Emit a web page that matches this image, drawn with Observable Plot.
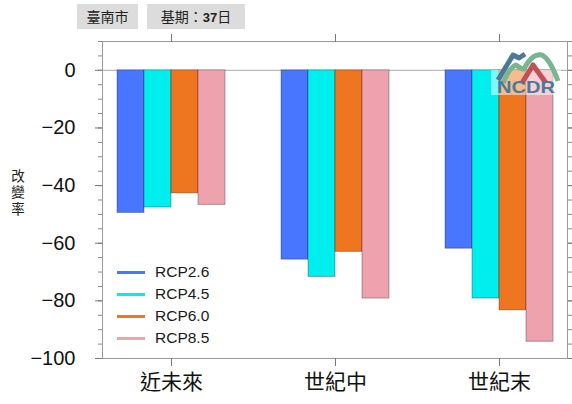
<!DOCTYPE html>
<html><head><meta charset="utf-8">
<script src="https://cdn.jsdelivr.net/npm/d3@7"></script>
<script src="https://cdn.jsdelivr.net/npm/@observablehq/plot@0.6"></script>
<style>
body{margin:0;background:#fff;font-family:"Liberation Sans",Arial,"Noto Sans CJK TC",sans-serif;}
#wrap{position:relative;width:572px;height:404px;overflow:hidden;}
#head{position:relative;height:30px;}
.tag{position:absolute;top:4px;height:25px;line-height:25px;background:#dcdcdc;color:#222;font-size:14px;text-align:center;font-family:"Noto Sans CJK TC","Liberation Sans",sans-serif;}
.tag b{font-family:"Liberation Sans",Arial,sans-serif;font-size:13px;}
#ylab{position:absolute;left:10px;top:169px;font-size:13.5px;line-height:16px;color:#222;font-family:"Noto Sans CJK TC",sans-serif;writing-mode:vertical-rl;text-orientation:upright;letter-spacing:3px;}
#chart{position:absolute;left:0;top:30px;width:572px;height:374px;}
#chart svg{position:absolute;left:0;top:0;}
#legend{position:absolute;left:117px;top:261px;}
.li{position:relative;height:22px;}
.li span.sw{position:absolute;left:0;top:9.5px;width:28px;height:3px;}
.li span.tx{position:absolute;left:38px;top:0;line-height:22px;font-size:15.5px;color:#1a1a1a;white-space:nowrap;}
#logo{position:absolute;left:488px;top:48px;}
</style></head><body>
<div id="wrap">
  <div id="head">
    <div class="tag" style="left:77px;width:61px">臺南市</div>
    <div class="tag" style="left:147px;width:98px">基期：<b>37</b>日</div>
  </div>
  <div id="chart"></div>
  <div id="ylab">改變率</div>
  <div id="legend"></div>
  <svg id="logo" width="76" height="48" viewBox="0 0 76 48">
    <rect x="3" y="22" width="70" height="25" fill="#fff" opacity="0.5"></rect>
    <path d="M10,32 L25,7 L31,10 L37,6" fill="none" stroke="#4a7a96" stroke-width="5" stroke-linejoin="round"></path>
    <path d="M15,35 Q22,19 28,17 Q33,21 36,21 Q44,5 54,7 Q62,11 70,33" fill="none" stroke="#7ab591" stroke-width="5" stroke-linejoin="round"></path>
    <path d="M34,35 L45,17 L58,35" fill="none" stroke="#c24f55" stroke-width="5" stroke-linejoin="round"></path>
    <text x="38" y="45" text-anchor="middle" font-family="Liberation Sans, Arial, sans-serif" font-weight="bold" font-size="17" fill="#4a7a9a" textLength="58" lengthAdjust="spacingAndGlyphs">NCDR</text>
  </svg>
</div>
<script>
const categories = ["近未來", "世紀中", "世紀末"];
const series = ["RCP2.6", "RCP4.5", "RCP6.0", "RCP8.5"];
const colors = ["#4876ff", "#00eeee", "#ee7621", "#eea2ad"];
const rcp26 = [-49.5, -65.7, -61.9];
const rcp45 = [-47.6, -71.7, -79.2];
const rcp60 = [-42.7, -63.0, -83.3];
const rcp85 = [-46.7, -79.2, -94.2];
const yTicks = [0, -20, -40, -60, -80, -100];
const yMinorTicks = [10, 5, 0, -5, -10, -15, -20, -25, -30, -35, -40, -45, -50, -55, -60, -65, -70, -75, -80, -85, -90, -95, -100];

const seriesValues = [rcp26, rcp45, rcp60, rcp85];
const rows = categories.flatMap((c, i) => series.map((s, j) => ({category: c, series: s, value: seriesValues[j][i]})));

const font = "Liberation Sans, Arial, Noto Sans CJK TC, sans-serif";
const common = {
  width: 572, height: 374,
  marginLeft: 102, marginRight: 5, marginTop: 11, marginBottom: 46,
  style: {fontFamily: font, color: "#111", background: "transparent", overflow: "visible"},
  y: {domain: [-100, 10], label: null}
};

// Background layer: frame, zero line, y axes (left and right)
const axesLayer = Plot.plot({
  ...common,
  marks: [
    Plot.ruleY([0], {stroke: "#aaa"}),
    Plot.frame({stroke: "#999"}),
    Plot.axisY(yMinorTicks, {anchor: "left", tickSize: 4, fill: "none", stroke: "#888", label: null}),
    Plot.axisY(yTicks, {anchor: "left", tickSize: 7, tickPadding: 20, fontSize: 20, stroke: "#777", fill: "#111", label: null}),
    Plot.axisY(yMinorTicks, {anchor: "right", tickSize: 4, fill: "none", stroke: "#888", label: null}),
    Plot.axisY(yTicks, {anchor: "right", tickSize: 7, fill: "none", stroke: "#777", label: null})
  ]
});

// Bar layer: grouped bars faceted by period
const barLayer = Plot.plot({
  ...common,
  y: {domain: [-100, 10], axis: null},
  fx: {domain: categories, paddingInner: 0.33, paddingOuter: 0.08, label: null},
  x: {domain: series, padding: 0, axis: null},
  color: {domain: series, range: colors},
  marks: [
    Plot.barY(rows, {fx: "category", x: "series", y: "value", fill: "series", stroke: "#000", strokeOpacity: 0.3}),
    Plot.axisFx({anchor: "bottom", tickSize: 8, tickPadding: 8, fontSize: 21, stroke: "#777", fill: "#111", label: null}),
    Plot.axisFx({anchor: "top", tickSize: 8, fill: "none", stroke: "#777", label: null})
  ]
});

const host = document.getElementById("chart");
host.appendChild(axesLayer);
host.appendChild(barLayer);

const legend = document.getElementById("legend");
series.forEach((s, i) => {
  const row = document.createElement("div");
  row.className = "li";
  row.innerHTML = `<span class="sw" style="background:${colors[i]}"></span><span class="tx">${s}</span>`;
  legend.appendChild(row);
});
</script>
</body></html>
